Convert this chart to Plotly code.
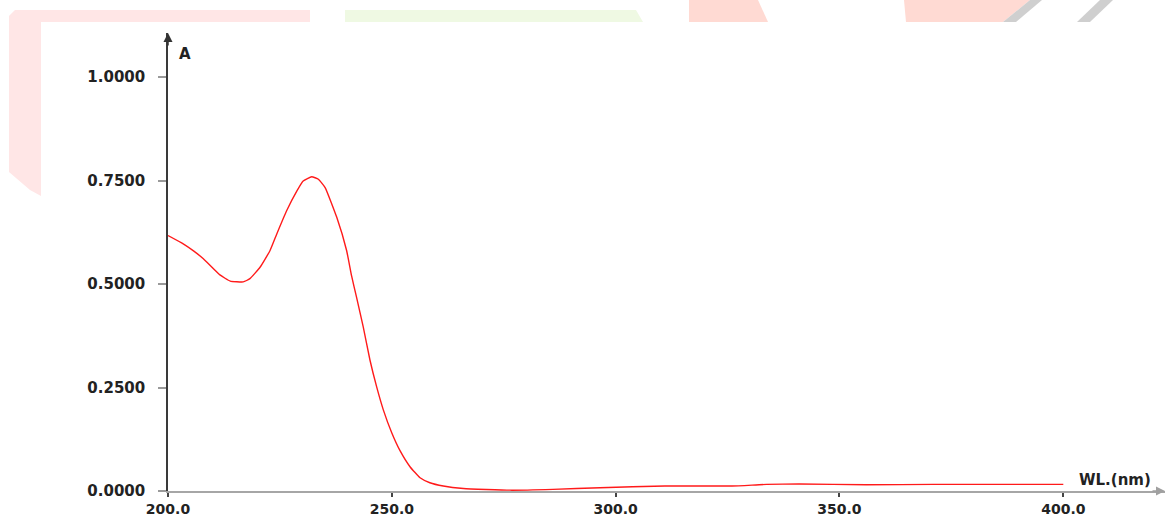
import plotly.graph_objects as go

# Absorption spectrum: wavelength (nm) vs absorbance (A)
wavelength_nm = [200.0, 203.4, 205.7, 207.9, 211.6, 213.9, 216.8, 218.3, 220.6, 222.8,
                 224.3, 226.5, 228.8, 230.2, 232.1, 233.6, 235.1, 237.7, 239.9, 241.0,
                 242.1, 243.6, 245.1, 246.6, 248.1, 250.0, 251.8, 254.1, 256.3, 258.5,
                 261.5, 266.0, 276.4, 286.0, 296.5, 311.0, 326.0, 333.7, 341.0, 356.0,
                 371.0, 400.0]
absorbance = [0.617, 0.597, 0.580, 0.561, 0.522, 0.507, 0.505, 0.513, 0.541, 0.581,
              0.621, 0.677, 0.725, 0.749, 0.759, 0.753, 0.733, 0.661, 0.581, 0.520,
              0.469, 0.397, 0.317, 0.252, 0.196, 0.140, 0.098, 0.058, 0.032, 0.020,
              0.012, 0.006, 0.002, 0.004, 0.008, 0.012, 0.012, 0.016, 0.017, 0.015,
              0.016, 0.016]

x_ticks = [200.0, 250.0, 300.0, 350.0, 400.0]
y_ticks = [0.0, 0.25, 0.5, 0.75, 1.0]

W, H = 1169, 517
ML, MR, MT, MB = 168, 4, 33, 26
PW, PH = W - ML - MR, H - MT - MB

X_RANGE = [200.0, 200.0 + PW / 4.4765]
Y_RANGE = [0.0, PH / 414.0]


def to_paper(px, py):
    """Convert a page pixel position to paper fractions."""
    return (px - ML) / PW, (MT + PH - py) / PH


def poly_path(points):
    parts = []
    for i, (px, py) in enumerate(points):
        fx, fy = to_paper(px, py)
        parts.append(("M" if i == 0 else "L") + f"{fx:.5f},{fy:.5f}")
    return " ".join(parts) + " Z"


# faint banner shapes along the top of the page
banners = [
    ([(9, 16), (15, 10), (310, 10), (310, 22), (41, 22), (41, 196), (30, 190), (9, 172)], "#ffe6e6"),
    ([(345, 10), (636, 10), (643, 22), (345, 22)], "#eff9e3"),
    ([(689, 0), (758, 0), (768, 22), (689, 22)], "#ffdad3"),
    ([(904, 0), (1030, 0), (1003, 22), (906, 22)], "#ffdad3"),
    ([(1030, 0), (1042, 0), (1016, 22), (1003, 22)], "#cfcfcf"),
    ([(1100, 0), (1113, 0), (1090, 22), (1077, 22)], "#cfcfcf"),
]

shapes = [dict(type="path", xref="paper", yref="paper", path=poly_path(pts),
               fillcolor=col, line=dict(width=0), layer="below")
          for pts, col in banners]

fig = go.Figure()
fig.add_trace(go.Scatter(
    x=wavelength_nm, y=absorbance, mode="lines",
    line=dict(color="#ff1a1a", width=1.4, shape="spline", smoothing=0.4),
    hoverinfo="skip", showlegend=False,
))

tick_font = dict(family="DejaVu Sans", size=15, color="#222222", weight="bold")
x_tick_font = dict(family="DejaVu Sans", size=14, color="#222222", weight="bold")

fig.update_layout(
    width=W, height=H, autosize=False,
    margin=dict(l=ML, r=MR, t=MT, b=MB, pad=0),
    paper_bgcolor="white", plot_bgcolor="rgba(0,0,0,0)",
    shapes=shapes,
    xaxis=dict(range=X_RANGE, tickvals=x_ticks, tickformat=".1f",
               automargin=False,
               showgrid=False, zeroline=False,
               showline=True, linecolor="#a6a6a6", linewidth=2,
               ticks="outside", ticklen=4, tickwidth=1.5, tickcolor="#444444",
               tickfont=x_tick_font, ticklabelstandoff=0),
    yaxis=dict(range=Y_RANGE, tickvals=y_ticks, tickformat=".4f",
               automargin=False,
               showgrid=False, zeroline=False,
               showline=True, linecolor="#3a3a3a", linewidth=1.5,
               ticks="outside", ticklen=8, tickwidth=2, tickcolor="#9a9a9a",
               tickfont=tick_font, ticklabelstandoff=10),
    annotations=[
        # axis arrowheads
        dict(x=0, y=1, xref="paper", yref="paper", ax=0, ay=14, text="",
             showarrow=True, arrowhead=2, arrowsize=1.2, arrowwidth=1.5,
             arrowcolor="#333333"),
        dict(x=1, y=0, xref="paper", yref="paper", ax=-14, ay=0, text="",
             showarrow=True, arrowhead=2, arrowsize=1.2, arrowwidth=1.5,
             arrowcolor="#a0a0a0"),
        # axis titles
        dict(x=0, y=1, xref="paper", yref="paper", text="A", showarrow=False,
             xanchor="left", yanchor="middle", xshift=9, yshift=-21,
             font=dict(family="DejaVu Sans", size=15, color="#222222", weight="bold")),
        dict(x=1, y=0, xref="paper", yref="paper", text="WL.(nm)", showarrow=False,
             xanchor="right", yanchor="middle", xshift=-12, yshift=11,
             font=dict(family="DejaVu Sans", size=15, color="#222222", weight="bold")),
    ],
)

fig.write_html("out.html")
